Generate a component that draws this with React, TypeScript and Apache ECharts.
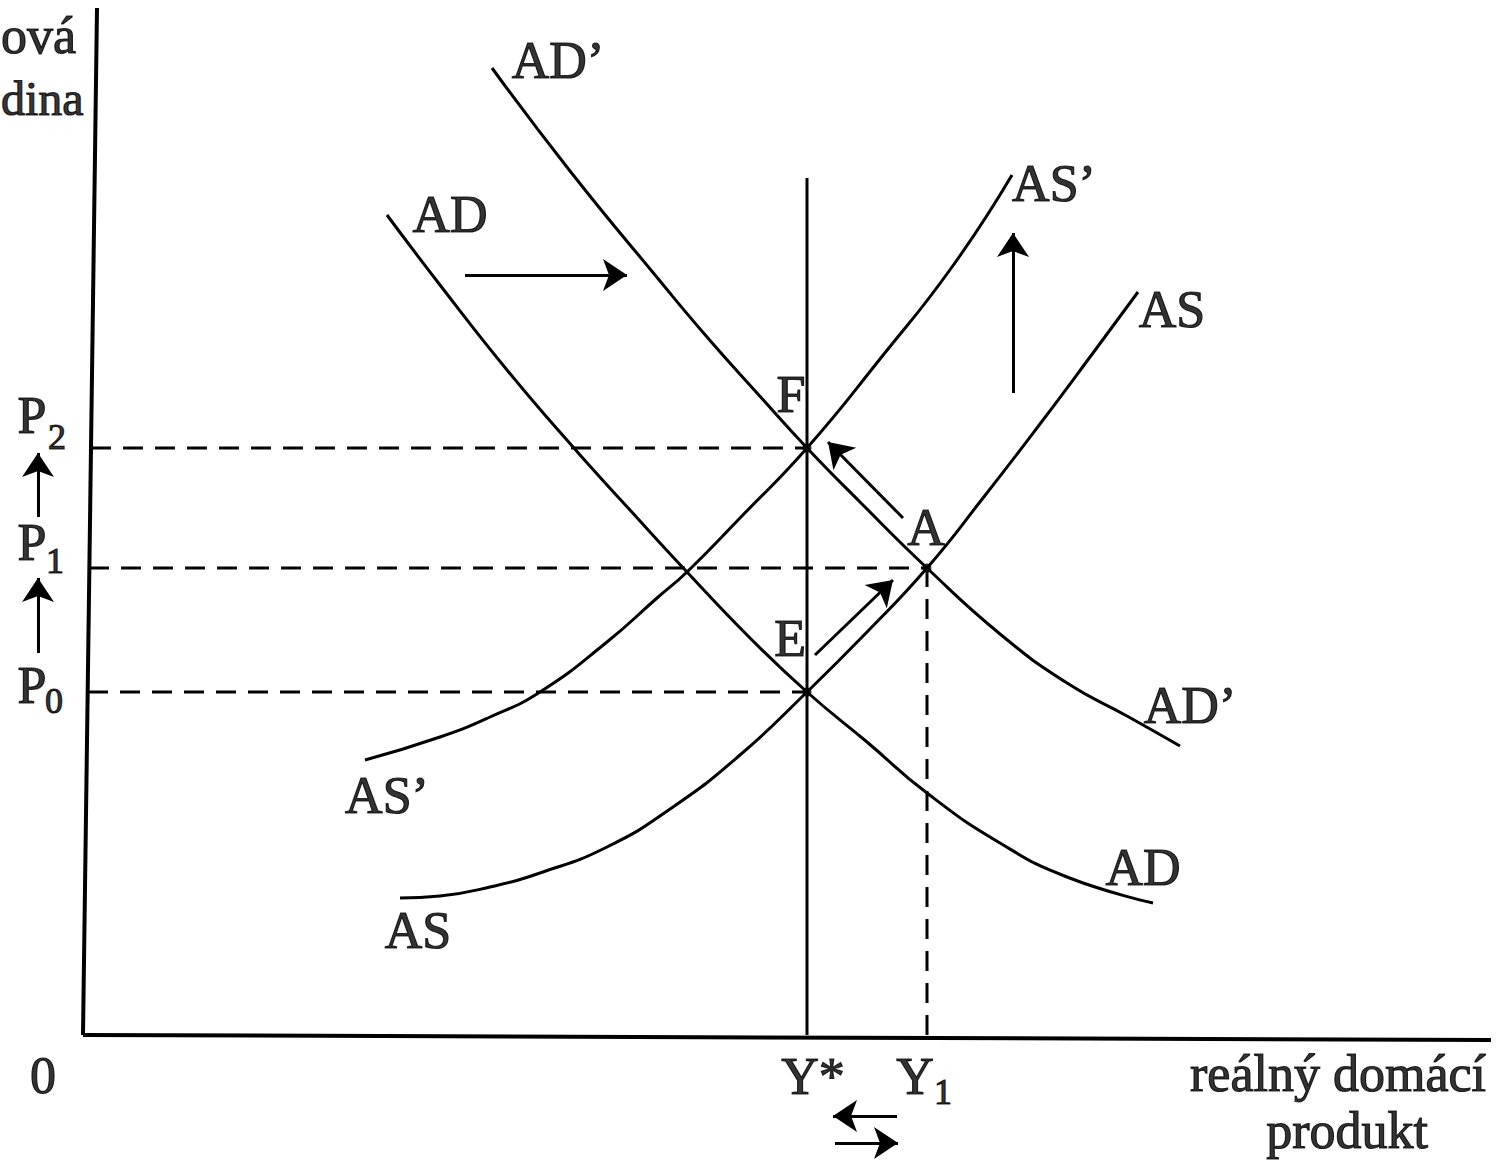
import React, { useEffect, useRef } from "react";
import * as echarts from "echarts";

// Coordinates: x = real output, y = price level (origin at the axes' corner)
const AD: [number, number][] = [[304,820],[357,750],[424,665],[490,588],[547,525],[604,463],[667,397],[724,343],[784,293],[844,242],[917,192],[984,158],[1070,132]];
const AD2: [number, number][] = [[409,967],[487,864],[577,754],[624,698],[674,642],[724,587],[777,533],[844,467],[917,401],[984,352],[1044,319],[1097,289]];
const AS: [number, number][] = [[317,137],[357,139],[407,148],[457,162],[524,188],[590,228],[657,280],[724,343],[784,403],[844,467],[900,537],[960,615],[1010,682],[1055,743]];
const AS2: [number, number][] = [[282,275],[357,298],[407,318],[457,343],[524,393],[574,437],[604,463],[657,517],[724,587],[797,676],[869,768],[929,860]];

const Y_STAR = 724;
const Y_ONE = 844;
const P0 = 343;
const P1 = 467;
const P2 = 587;
const Y_STAR_TOP = 857;

const Y_AXIS: [number, number][] = [[0, 0], [14, 1027]];
const X_AXIS: [number, number][] = [[0, 0], [1408, -5]];

const POINTS: [number, number][] = [[Y_STAR, P0], [Y_STAR, P2], [Y_ONE, P1]];

// arrows: [tail, tip]
const ARROWS: [number, number][][] = [
  [[382, 760], [544, 760]],
  [[930, 642], [930, 802]],
  [[820, 517], [745, 593]],
  [[732, 380], [810, 455]],
  [[-45, 518], [-45, 582]],
  [[-45, 382], [-45, 457]],
  [[814, -81], [750, -81]],
  [[752, -108], [815, -108]],
];

type Lbl = { text: string; at: [number, number]; size?: number; align?: string };
const LABELS: Lbl[] = [
  { text: "AD’", at: [475, 975] },
  { text: "AD", at: [367, 821] },
  { text: "AS’", at: [971, 852] },
  { text: "AS", at: [1089, 726] },
  { text: "F", at: [708, 641] },
  { text: "A", at: [843, 508] },
  { text: "E", at: [707, 397] },
  { text: "AD’", at: [1107, 330] },
  { text: "AS’", at: [304, 240] },
  { text: "AD", at: [1060, 168] },
  { text: "AS", at: [335, 105] },
  { text: "P", at: [-51, 620] },
  { text: "2", at: [-26, 598], size: 36 },
  { text: "P", at: [-51, 493] },
  { text: "1", at: [-28, 474], size: 36 },
  { text: "P", at: [-51, 350] },
  { text: "0", at: [-29, 334], size: 36 },
  { text: "0", at: [-40, -40] },
  { text: "Y*", at: [730, -41] },
  { text: "Y", at: [832, -41] },
  { text: "1", at: [860, -57], size: 36 },
  { text: "reálný domácí", at: [1255, -38] },
  { text: "produkt", at: [1264, -95] },
  { text: "ová", at: [-82, 1000], align: "left" },
  { text: "dina", at: [-82, 937], align: "left", size: 48 },
];

const FONT = "'Liberation Serif', 'Times New Roman', serif";
const BLACK = "#000";

function curve(data: [number, number][], width = 3) {
  return {
    type: "line",
    data,
    showSymbol: false,
    smooth: 0.5,
    silent: true,
    lineStyle: { color: BLACK, width },
  };
}

function straight(data: [number, number][], width = 3, dashed = false) {
  return {
    type: "line",
    data,
    showSymbol: false,
    silent: true,
    lineStyle: { color: BLACK, width, type: dashed ? [20, 12] : "solid" },
  };
}

export default function App() {
  const ref = useRef<HTMLDivElement>(null);
  useEffect(() => {
    if (!ref.current) return;
    const chart = echarts.init(ref.current, undefined, { renderer: "svg" });
    const option: any = {
      animation: false,
      backgroundColor: "#fff",
      grid: { left: 0, right: 0, top: 0, bottom: 0, containLabel: false },
      xAxis: { type: "value", min: -83, max: 1423, show: false },
      yAxis: { type: "value", min: -140, max: 1035, show: false },
      series: [
        straight(Y_AXIS, 4),
        straight(X_AXIS, 4),
        straight([[Y_STAR, 0], [Y_STAR, Y_STAR_TOP]], 3),
        straight([[8, P2], [Y_STAR, P2]], 3, true),
        straight([[6, P1], [Y_ONE, P1]], 3, true),
        straight([[5, P0], [Y_STAR, P0]], 3, true),
        straight([[Y_ONE, 0], [Y_ONE, P1]], 3, true),
        curve(AD),
        curve(AD2),
        curve(AS),
        curve(AS2),
        {
          type: "scatter",
          data: POINTS,
          symbol: "circle",
          symbolSize: 9,
          silent: true,
          itemStyle: { color: BLACK },
        },
        {
          type: "lines",
          coordinateSystem: "cartesian2d",
          silent: true,
          symbol: ["none", "arrow"],
          symbolSize: [19, 24],
          lineStyle: { color: BLACK, width: 3, opacity: 1, curveness: 0 },
          data: ARROWS.map((a) => ({ coords: [a[0], a[1]] })),
        },
        {
          type: "scatter",
          silent: true,
          symbolSize: 1,
          itemStyle: { color: "rgba(0,0,0,0)" },
          data: LABELS.map((l) => ({
            name: l.text,
            value: l.at,
            label: {
              show: true,
              position: "inside",
              align: l.align || "center",
              verticalAlign: "middle",
              formatter: l.text,
              color: BLACK,
              fontFamily: FONT,
              fontSize: l.size || 52,
              textBorderColor: BLACK,
              textBorderWidth: 1.2,
            },
          })),
        },
      ],
    };
    chart.setOption(option);
    return () => chart.dispose();
  }, []);
  return (
    <div
      ref={ref}
      style={{ position: "absolute", left: 0, top: 0, width: 1506, height: 1175, background: "#fff" }}
    />
  );
}
